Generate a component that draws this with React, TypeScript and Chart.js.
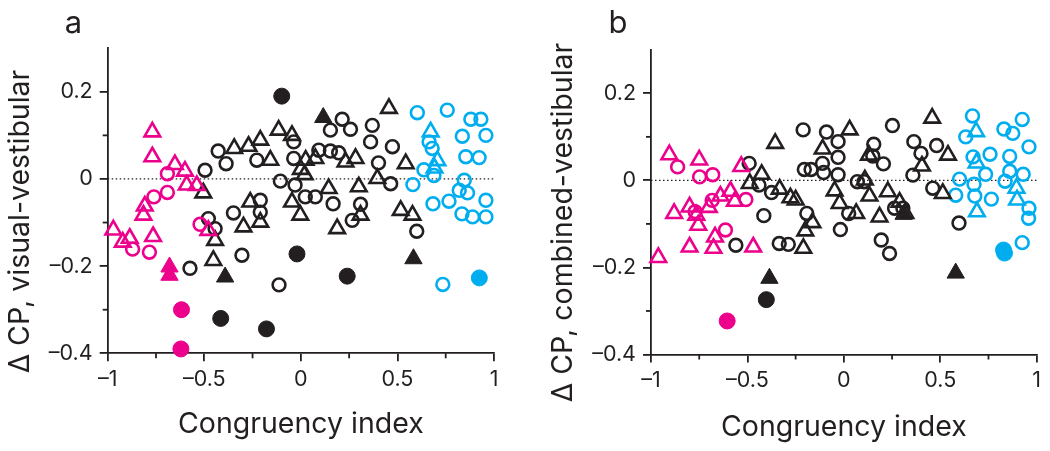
import React, { useEffect, useRef } from "react";
import { Chart, registerables } from "chart.js";

Chart.register(...registerables);

type Pt = [number, number];

// ---------------- shared axis content ----------------
const xTickValues = [-1, -0.5, 0, 0.5, 1];
const xMinorTickValues = [-0.75, -0.25, 0.25, 0.75];
const yTickValues = [-0.4, -0.2, 0, 0.2];
const yMinorTickValues = [-0.3, -0.1, 0.1];
const xAxisTitle = "Congruency index";
const panelLetters = ["a", "b"];
const yAxisTitles = ["\u0394 CP, visual-vestibular", "\u0394 CP, combined-vestibular"];

// ---------------- panel a : visual - vestibular ----------------
const aMagentaOpenCircles: Pt[] = [
  [-0.691, 0.012], [-0.691, -0.031], [-0.761, -0.041], [-0.871, -0.161], [-0.784, -0.168], [-0.522, -0.104],
];
const aMagentaOpenTriangles: Pt[] = [
  [-0.769, 0.108], [-0.769, 0.051], [-0.652, 0.033], [-0.6, 0.018], [-0.591, -0.014], [-0.539, -0.015],
  [-0.808, -0.062], [-0.815, -0.083], [-0.971, -0.117], [-0.922, -0.145], [-0.886, -0.136], [-0.765, -0.132],
  [-0.479, -0.118],
];
const aMagentaFilledCircles: Pt[] = [[-0.618, -0.3], [-0.621, -0.39]];
const aMagentaFilledTriangles: Pt[] = [[-0.68, -0.202], [-0.68, -0.221]];
const aBlackOpenCircles: Pt[] = [
  [-0.428, 0.064], [-0.387, 0.035], [-0.496, 0.02], [-0.228, 0.043], [-0.037, 0.085], [-0.037, 0.047],
  [-0.106, -0.005], [-0.03, -0.014], [0.153, 0.112], [0.214, 0.137], [0.257, 0.114], [0.093, 0.066],
  [0.153, 0.064], [0.196, 0.06], [0.37, 0.123], [0.361, 0.085], [0.474, 0.074], [0.402, 0.037],
  [0.465, -0.011], [0.023, -0.041], [0.075, -0.041], [0.167, -0.057], [0.309, -0.058], [0.266, -0.095],
  [-0.349, -0.078], [-0.21, -0.049], [-0.21, -0.076], [-0.479, -0.091], [-0.444, -0.114], [-0.305, -0.175],
  [-0.574, -0.205], [-0.113, -0.243], [0.6, -0.12],
];
const aBlackOpenTriangles: Pt[] = [
  [-0.345, 0.07], [-0.271, 0.075], [-0.21, 0.089], [-0.158, 0.043], [-0.115, 0.112], [-0.046, 0.1],
  [0.0, 0.022], [0.02, 0.01], [0.025, 0.043], [0.075, 0.047], [0.231, 0.039], [0.283, 0.047],
  [0.456, 0.162], [0.543, 0.035], [0.396, 0.001], [0.3, -0.018], [-0.505, -0.032], [-0.262, -0.053],
  [-0.297, -0.11], [-0.21, -0.099], [-0.046, -0.053], [-0.003, -0.083], [0.144, -0.022], [0.188, -0.114],
  [0.309, -0.083], [0.517, -0.072], [0.578, -0.083], [-0.444, -0.141], [-0.453, -0.187],
];
const aBlackFilledCircles: Pt[] = [[-0.099, 0.19], [-0.02, -0.172], [0.24, -0.223], [-0.415, -0.32], [-0.178, -0.344]];
const aBlackFilledTriangles: Pt[] = [[0.116, 0.141], [-0.392, -0.225], [0.583, -0.183]];
const aCyanOpenCircles: Pt[] = [
  [0.603, 0.152], [0.758, 0.158], [0.88, 0.137], [0.932, 0.137], [0.836, 0.098], [0.958, 0.1],
  [0.664, 0.085], [0.68, 0.07], [0.854, 0.051], [0.923, 0.049], [0.637, 0.021], [0.689, 0.008],
  [0.58, -0.013], [0.846, -0.003], [0.82, -0.026], [0.863, -0.032], [0.958, -0.049], [0.684, -0.057],
  [0.767, -0.051], [0.834, -0.08], [0.889, -0.087], [0.958, -0.087], [0.735, -0.242],
];
const aCyanOpenTriangles: Pt[] = [[0.672, 0.108], [0.707, 0.042], [0.692, 0.025]];
const aCyanFilledCircles: Pt[] = [[0.924, -0.227]];

// ---------------- panel b : combined - vestibular ----------------
const bMagentaOpenCircles: Pt[] = [
  [-0.862, 0.031], [-0.748, 0.008], [-0.68, 0.013], [-0.771, -0.072], [-0.683, -0.046], [-0.508, -0.044],
  [-0.614, -0.114],
];
const bMagentaOpenTriangles: Pt[] = [
  [-0.905, 0.059], [-0.75, 0.047], [-0.532, 0.032], [-0.88, -0.076], [-0.8, -0.061], [-0.765, -0.08],
  [-0.755, -0.103], [-0.7, -0.062], [-0.64, -0.036], [-0.588, -0.025], [-0.565, -0.048], [-0.8, -0.153],
  [-0.668, -0.13], [-0.676, -0.156], [-0.47, -0.153], [-0.962, -0.177],
];
const bMagentaFilledCircles: Pt[] = [[-0.605, -0.323]];
const bMagentaFilledTriangles: Pt[] = [];
const bBlackOpenCircles: Pt[] = [
  [-0.491, 0.039], [-0.44, -0.011], [-0.375, -0.028], [-0.415, -0.081], [-0.56, -0.149], [-0.335, -0.145],
  [-0.288, -0.147], [-0.211, 0.116], [-0.205, 0.025], [-0.17, 0.025], [-0.192, -0.076], [-0.09, 0.111],
  [-0.111, 0.039], [-0.105, 0.018], [-0.03, 0.089], [-0.03, 0.053], [-0.03, 0.013], [0.025, -0.076],
  [-0.018, -0.113], [0.07, -0.003], [0.105, -0.003], [0.155, 0.083], [0.15, 0.056], [0.205, 0.038],
  [0.252, 0.126], [0.194, -0.137], [0.237, -0.168], [0.263, -0.064], [0.306, -0.064], [0.363, 0.089],
  [0.4, 0.062], [0.358, 0.012], [0.481, 0.08], [0.461, -0.018], [0.597, -0.098],
];
const bBlackOpenTriangles: Pt[] = [
  [-0.356, 0.085], [-0.426, 0.014], [-0.488, -0.007], [-0.333, -0.02], [-0.277, -0.04], [-0.25, -0.045],
  [-0.163, -0.097], [-0.2, -0.116], [-0.21, -0.156], [-0.11, 0.072], [0.03, 0.116], [-0.048, -0.024],
  [-0.022, -0.053], [0.064, -0.076], [0.109, 0.001], [0.133, -0.036], [0.13, 0.058], [0.185, -0.084],
  [0.228, -0.026], [0.289, -0.05], [0.319, -0.076], [0.458, 0.143], [0.405, 0.033], [0.54, 0.058],
  [0.513, -0.03],
];
const bBlackFilledCircles: Pt[] = [[-0.402, -0.274]];
const bBlackFilledTriangles: Pt[] = [[-0.386, -0.225], [0.58, -0.213], [0.31, -0.078]];
const bCyanOpenCircles: Pt[] = [
  [0.667, 0.148], [0.632, 0.1], [0.67, 0.054], [0.758, 0.06], [0.6, 0.003], [0.58, -0.034],
  [0.675, -0.009], [0.679, -0.036], [0.735, 0.014], [0.765, -0.043], [0.83, 0.118], [0.876, 0.108],
  [0.925, 0.14], [0.96, 0.077], [0.86, 0.055], [0.86, 0.021], [0.836, -0.002], [0.93, 0.014],
  [0.96, -0.064], [0.958, -0.087], [0.925, -0.143],
];
const bCyanOpenTriangles: Pt[] = [[0.686, 0.112], [0.688, 0.04], [0.69, -0.072], [0.895, -0.018], [0.898, -0.045]];
const bCyanFilledCircles: Pt[] = [[0.828, -0.16], [0.833, -0.167]];

// ---------------- styles & layout ----------------
const INK = "#231f20";
const MAGENTA = "#ec008c";
const CYAN = "#00aeef";
const FONT = "Inter, 'Liberation Sans', Arial, sans-serif";
const TICK_SIZE = 21.5;
const TITLE_SIZE = 28.5;
const LETTER_SIZE = 31;
const AXIS_W = 1.8;
const MAJOR_LEN = 8;
const MINOR_LEN = 5;
const HEIGHT = 451;

type Shape = "circle" | "triangle";
interface Group { pts: Pt[]; color: string; shape: Shape; filled: boolean; }

const groups: Group[][] = [
  [
    { pts: aMagentaOpenCircles, color: MAGENTA, shape: "circle", filled: false },
    { pts: aMagentaOpenTriangles, color: MAGENTA, shape: "triangle", filled: false },
    { pts: aMagentaFilledCircles, color: MAGENTA, shape: "circle", filled: true },
    { pts: aMagentaFilledTriangles, color: MAGENTA, shape: "triangle", filled: true },
    { pts: aBlackOpenCircles, color: INK, shape: "circle", filled: false },
    { pts: aBlackOpenTriangles, color: INK, shape: "triangle", filled: false },
    { pts: aBlackFilledCircles, color: INK, shape: "circle", filled: true },
    { pts: aBlackFilledTriangles, color: INK, shape: "triangle", filled: true },
    { pts: aCyanOpenCircles, color: CYAN, shape: "circle", filled: false },
    { pts: aCyanOpenTriangles, color: CYAN, shape: "triangle", filled: false },
    { pts: aCyanFilledCircles, color: CYAN, shape: "circle", filled: true },
  ],
  [
    { pts: bMagentaOpenCircles, color: MAGENTA, shape: "circle", filled: false },
    { pts: bMagentaOpenTriangles, color: MAGENTA, shape: "triangle", filled: false },
    { pts: bMagentaFilledCircles, color: MAGENTA, shape: "circle", filled: true },
    { pts: bMagentaFilledTriangles, color: MAGENTA, shape: "triangle", filled: true },
    { pts: bBlackOpenCircles, color: INK, shape: "circle", filled: false },
    { pts: bBlackOpenTriangles, color: INK, shape: "triangle", filled: false },
    { pts: bBlackFilledCircles, color: INK, shape: "circle", filled: true },
    { pts: bBlackFilledTriangles, color: INK, shape: "triangle", filled: true },
    { pts: bCyanOpenCircles, color: CYAN, shape: "circle", filled: false },
    { pts: bCyanOpenTriangles, color: CYAN, shape: "triangle", filled: false },
    { pts: bCyanFilledCircles, color: CYAN, shape: "circle", filled: true },
  ],
];

interface PanelLayout {
  left: number; width: number; plotLeft: number; plotRight: number; plotTop: number; plotBottom: number;
  yTitleX: number; yTitleY: number; xTitleY: number; letterX: number; letterY: number;
}
const layouts: PanelLayout[] = [
  { left: 0, width: 520, plotLeft: 107.7, plotRight: 494, plotTop: 48.2, plotBottom: 353.3,
    yTitleX: 28.5, yTitleY: 221.5, xTitleY: 433, letterX: 73.5, letterY: 33 },
  { left: 520, width: 530, plotLeft: 131, plotRight: 516.7, plotTop: 49.8, plotBottom: 354.5,
    yTitleX: 52, yTitleY: 222.5, xTitleY: 436, letterX: 98, letterY: 33 },
];

function fmtTick(v: number | string): string {
  const n = Number(v);
  if (Math.abs(n) < 1e-9) return "0";
  const s = String(Math.round(Math.abs(n) * 10) / 10);
  return n < 0 ? "\u2013" + s : s;
}

function makeDataset(g: Group) {
  const r = g.shape === "circle" ? (g.filled ? 8 : 6.4) : (g.filled ? 10 : 9);
  return {
    type: "scatter" as const,
    data: g.pts.map(([x, y]) => ({ x, y })),
    pointStyle: g.shape,
    pointRadius: r,
    pointBorderWidth: g.filled ? 1 : 2.6,
    pointBorderColor: g.color,
    pointBackgroundColor: g.filled ? g.color : "rgba(0,0,0,0)",
    borderColor: g.color,
    backgroundColor: g.filled ? g.color : "rgba(0,0,0,0)",
    showLine: false,
    clip: false as const,
  };
}

function decorPlugin(idx: number) {
  const L = layouts[idx];
  return {
    id: "decor" + idx,
    afterDraw(chart: any) {
      const { ctx, chartArea } = chart;
      const xs = chart.scales.x;
      const ys = chart.scales.y;
      ctx.save();
      ctx.strokeStyle = INK;
      ctx.lineWidth = AXIS_W;
      for (const v of yMinorTickValues) {
        const py = ys.getPixelForValue(v);
        ctx.beginPath();
        ctx.moveTo(chartArea.left - MINOR_LEN, py);
        ctx.lineTo(chartArea.left, py);
        ctx.stroke();
      }
      for (const v of xMinorTickValues) {
        const px = xs.getPixelForValue(v);
        ctx.beginPath();
        ctx.moveTo(px, chartArea.bottom);
        ctx.lineTo(px, chartArea.bottom + MINOR_LEN);
        ctx.stroke();
      }
      ctx.fillStyle = INK;
      ctx.textBaseline = "alphabetic";
      ctx.textAlign = "center";
      ctx.font = `${TITLE_SIZE}px ${FONT}`;
      ctx.fillText(xAxisTitle, (chartArea.left + chartArea.right) / 2, L.xTitleY);
      ctx.save();
      ctx.translate(L.yTitleX, L.yTitleY);
      ctx.rotate(-Math.PI / 2);
      ctx.fillText(yAxisTitles[idx], 0, 0);
      ctx.restore();
      ctx.font = `${LETTER_SIZE}px ${FONT}`;
      ctx.fillText(panelLetters[idx], L.letterX, L.letterY);
      ctx.restore();
    },
  };
}

function Panel({ idx }: { idx: number }) {
  const ref = useRef<HTMLCanvasElement>(null);
  const L = layouts[idx];
  useEffect(() => {
    if (!ref.current) return;
    const zeroLine = {
      type: "line" as const,
      data: [{ x: -1, y: 0 }, { x: 1, y: 0 }],
      borderColor: INK,
      borderWidth: 1.2,
      borderDash: [1.5, 2.5],
      pointRadius: 0,
      fill: false,
      clip: false as const,
    };
    const tickFont = { family: FONT, size: TICK_SIZE };
    const chart = new Chart(ref.current, {
      type: "scatter",
      data: { datasets: [...groups[idx].map(makeDataset), zeroLine] as any },
      options: {
        responsive: false,
        animation: false,
        devicePixelRatio: 1,
        events: [],
        layout: { padding: { left: 0, top: L.plotTop, right: L.width - L.plotRight, bottom: 0 } },
        plugins: { legend: { display: false }, tooltip: { enabled: false }, title: { display: false } },
        scales: {
          x: {
            type: "linear",
            position: "bottom",
            min: -1,
            max: 1,
            afterBuildTicks: (s: any) => { s.ticks = xTickValues.map((value) => ({ value })); },
            afterFit: (s: any) => { s.height = HEIGHT - L.plotBottom; },
            ticks: { callback: (v: any) => fmtTick(v), color: INK, font: tickFont, padding: 5, maxRotation: 0, autoSkip: false },
            grid: { display: true, drawOnChartArea: false, drawTicks: true, tickLength: MAJOR_LEN, color: INK, lineWidth: AXIS_W },
            border: { display: true, color: INK, width: AXIS_W },
          },
          y: {
            type: "linear",
            position: "left",
            min: -0.4,
            max: 0.3,
            afterBuildTicks: (s: any) => { s.ticks = yTickValues.map((value) => ({ value })); },
            afterFit: (s: any) => { s.width = L.plotLeft; },
            ticks: { callback: (v: any) => fmtTick(v), color: INK, font: tickFont, padding: 7, autoSkip: false },
            grid: { display: true, drawOnChartArea: false, drawTicks: true, tickLength: MAJOR_LEN, color: INK, lineWidth: AXIS_W },
            border: { display: true, color: INK, width: AXIS_W },
          },
        },
      } as any,
      plugins: [decorPlugin(idx)],
    });
    return () => chart.destroy();
  }, [idx]);
  return (
    <canvas
      ref={ref}
      width={L.width}
      height={HEIGHT}
      style={{ position: "absolute", left: L.left, top: 0, width: L.width, height: HEIGHT }}
    />
  );
}

export default function App() {
  return (
    <div style={{ position: "fixed", left: 0, top: 0, width: 1050, height: HEIGHT, background: "#ffffff" }}>
      <Panel idx={0} />
      <Panel idx={1} />
    </div>
  );
}
